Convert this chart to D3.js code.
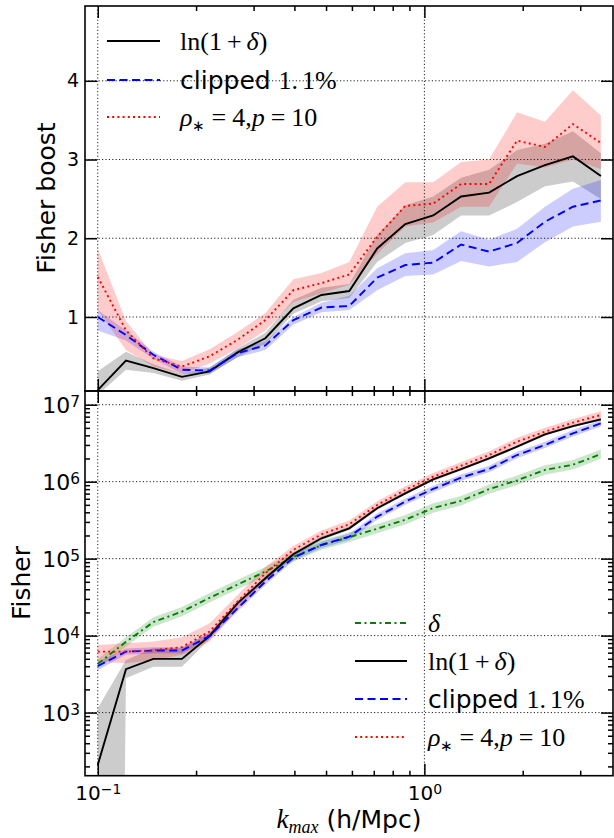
<!DOCTYPE html>
<html><head><meta charset="utf-8">
<script src="https://cdn.jsdelivr.net/npm/d3@7"></script>
<style>body{margin:0;background:#fff} svg{display:block}</style>
</head><body><svg id="c" width="614" height="838"></svg>
<script>
// ---- data ----
const kValues = [0.100,0.122,0.148,0.181,0.220,0.268,0.326,0.397,0.484,0.589,0.717,0.874,1.064,1.296,1.578,1.922,2.340,2.850,3.471];

// top panel: Fisher boost
const boostLn    = [0.07,0.445,0.35,0.24,0.31,0.55,0.73,1.11,1.28,1.33,1.87,2.18,2.29,2.53,2.58,2.79,2.93,3.04,2.79];
const boostLnLo  = [0.01,0.33,0.29,0.19,0.27,0.49,0.66,1.04,1.20,1.24,1.70,1.94,2.04,2.29,2.29,2.46,2.66,2.72,2.50];
const boostLnHi  = [0.31,0.56,0.40,0.28,0.36,0.60,0.80,1.22,1.37,1.42,2.04,2.42,2.53,2.77,2.87,3.12,3.20,3.36,3.08];
const boostClip   = [1.00,0.77,0.52,0.33,0.32,0.54,0.64,0.96,1.12,1.14,1.50,1.66,1.69,1.92,1.83,1.94,2.21,2.40,2.48];
const boostClipLo = [0.83,0.70,0.47,0.28,0.28,0.49,0.58,0.90,1.06,1.09,1.34,1.52,1.54,1.71,1.64,1.70,1.95,2.15,2.21];
const boostClipHi = [1.09,0.83,0.56,0.37,0.36,0.59,0.69,1.00,1.18,1.27,1.62,1.81,1.85,2.09,1.98,2.12,2.40,2.63,2.74];
const boostRho   = [1.51,0.83,0.475,0.37,0.50,0.71,0.96,1.34,1.43,1.54,2.02,2.41,2.44,2.69,2.69,3.24,3.16,3.45,3.21];
const boostRhoLo = [1.09,0.58,0.37,0.28,0.41,0.60,0.83,1.19,1.30,1.41,1.80,2.15,2.20,2.40,2.40,2.95,2.90,3.00,2.88];
const boostRhoHi = [1.87,0.95,0.52,0.44,0.59,0.81,1.05,1.48,1.56,1.70,2.40,2.71,2.71,2.97,3.00,3.60,3.48,3.88,3.56];

// bottom panel: Fisher
const fisherDelta   = [4300,8300,15000,20500,31000,46000,68000,105000,150000,190000,245000,320000,455000,565000,800000,1.04e6,1.42e6,1.66e6,2.28e6];
const fisherDeltaLo = [3700,7200,13000,17800,27000,40000,59000,91000,130000,165000,213000,278000,396000,491000,696000,9.04e5,1.23e6,1.44e6,1.98e6];
const fisherDeltaHi = [4950,9550,17300,23600,35700,53000,78000,121000,173000,219000,282000,368000,523000,650000,920000,1.20e6,1.63e6,1.91e6,2.62e6];
const fisherLn   = [209,3660,4980,4980,9900,26400,55600,114000,184000,248000,452000,706000,1.07e6,1.46e6,2.01e6,2.85e6,4.12e6,5.28e6,6.46e6];
const fisherLnLo = [1e-30,2800,3950,3950,9000,24500,52000,107000,174000,235000,430000,675000,1.02e6,1.40e6,1.93e6,2.74e6,3.96e6,5.08e6,6.22e6];
const fisherLnHi = [1140,4830,6860,6860,10900,28400,59500,121000,194000,262000,475000,738000,1.12e6,1.52e6,2.09e6,2.96e6,4.28e6,5.49e6,6.71e6];
const fisherClip   = [4030,6190,6400,6400,9900,22700,50200,103000,151000,193000,351000,550000,804000,1.13e6,1.46e6,2.22e6,3.00e6,4.25e6,5.73e6];
const fisherClipLo = [3550,5650,5850,5850,9000,20600,45600,93600,137000,175000,319000,500000,731000,1.03e6,1.33e6,2.02e6,2.73e6,3.86e6,5.21e6];
const fisherClipHi = [4590,6800,7040,7040,10900,25000,55200,113000,166000,212000,386000,605000,884000,1.24e6,1.61e6,2.44e6,3.30e6,4.68e6,6.30e6];
const fisherRho   = [6190,6200,6440,7090,11300,27700,64600,130000,207000,280000,498000,780000,1.16e6,1.61e6,2.22e6,3.31e6,4.46e6,5.84e6,7.35e6];
const fisherRhoLo = [4590,4370,4830,5610,8360,21600,51800,115000,185000,250000,445000,697000,1.04e6,1.44e6,1.98e6,2.96e6,3.98e6,5.21e6,6.56e6];
const fisherRhoHi = [7570,7960,8360,9530,14500,33800,78700,146000,232000,314000,558000,874000,1.30e6,1.80e6,2.49e6,3.71e6,5.00e6,6.54e6,8.23e6];

const boostTicks  = [1,2,3,4];
const fisherTicks = [1e3,1e4,1e5,1e6,1e7];
const fisherTickExp = ["3","4","5","6","7"];
const kTicks = [0.1, 1];
const kTickExp = ["\u22121","0"];

// ---- layout ----
const L = 85, R = 613, TT = 6, TB = 391, BT = 391, BB = 775.7;
const svg = d3.select("#c");
svg.append("rect").attr("width",614).attr("height",838).attr("fill","#fff");
const defs = svg.append("defs");
defs.append("clipPath").attr("id","clipTop").append("rect").attr("x",L).attr("y",TT).attr("width",R-L).attr("height",TB-TT);
defs.append("clipPath").attr("id","clipBot").append("rect").attr("x",L).attr("y",BT).attr("width",R-L).attr("height",BB-BT);

const x = d3.scaleLog().domain([0.0914, 3.78]).range([L, R]);
const yTop = d3.scaleLinear().domain([0.06, 4.95]).range([TB, TT]);
const yBot = d3.scaleLog().domain([Math.pow(10,2.18), Math.pow(10,7.178)]).range([BB, BT]);

const styles = {
  ln:   {color:"#000000", dash:null},
  clip: {color:"#0000ff", dash:"8,4.5"},
  rho:  {color:"#ff0000", dash:"2,3.2"},
  delta:{color:"#008000", dash:"6,3.5,2,3.5"}
};

function grid(g, y, yTicks, y0, y1) {
  const gg = g.append("g").attr("stroke","#222").attr("stroke-width",1).attr("stroke-dasharray","1.2,2.2");
  kTicks.forEach(t => gg.append("line").attr("x1",x(t)).attr("x2",x(t)).attr("y1",y0).attr("y2",y1));
  yTicks.forEach(t => gg.append("line").attr("x1",L).attr("x2",R).attr("y1",y(t)).attr("y2",y(t)));
}

function panel(clipId, y, series) {
  const g = svg.append("g").attr("clip-path",`url(#${clipId})`);
  series.forEach(s => {
    const area = d3.area().x((d,i)=>x(kValues[i])).y0((d,i)=>y(s.lo[i])).y1((d,i)=>y(s.hi[i]));
    g.append("path").attr("d", area(s.v)).attr("fill", styles[s.key].color).attr("fill-opacity",0.2).attr("stroke","none");
  });
  return g;
}
function lines(g, y, series) {
  series.forEach(s => {
    const line = d3.line().x((d,i)=>x(kValues[i])).y(d=>y(d));
    const p = g.append("path").attr("d", line(s.v)).attr("fill","none")
      .attr("stroke", styles[s.key].color).attr("stroke-width",1.9);
    if (styles[s.key].dash) p.attr("stroke-dasharray", styles[s.key].dash);
  });
}

// top panel
const topSeries = [
  {key:"ln", v:boostLn, lo:boostLnLo, hi:boostLnHi},
  {key:"clip", v:boostClip, lo:boostClipLo, hi:boostClipHi},
  {key:"rho", v:boostRho, lo:boostRhoLo, hi:boostRhoHi}
];
const gTop = panel("clipTop", yTop, topSeries);
grid(gTop, yTop, boostTicks, TT, TB);
lines(gTop, yTop, topSeries);

// bottom panel
const botSeries = [
  {key:"delta", v:fisherDelta, lo:fisherDeltaLo, hi:fisherDeltaHi},
  {key:"ln", v:fisherLn, lo:fisherLnLo, hi:fisherLnHi},
  {key:"clip", v:fisherClip, lo:fisherClipLo, hi:fisherClipHi},
  {key:"rho", v:fisherRho, lo:fisherRhoLo, hi:fisherRhoHi}
];
const gBot = panel("clipBot", yBot, botSeries);
grid(gBot, yBot, fisherTicks, BT, BB);
lines(gBot, yBot, botSeries);

// ---- axes ----
const kMinor = x.ticks().filter(t => !kTicks.some(m => Math.abs(m-t) < 1e-9));
const fMinor = yBot.ticks().filter(t => !fisherTicks.some(m => Math.abs(m-t)/m < 1e-9));

function styleAxis(g) {
  g.select(".domain").remove();
  g.selectAll(".tick line").attr("stroke","#000").attr("stroke-width",1.5);
}
function addAxis(axis, tx, ty) {
  const g = svg.append("g").attr("transform",`translate(${tx},${ty})`).call(axis);
  styleAxis(g);
  return g;
}
const noLab = () => "";

// top panel axes
const gTopLeft = addAxis(d3.axisLeft(yTop).tickValues(boostTicks).tickSize(-12).tickPadding(6).tickFormat(d3.format("d")), L, 0);
gTopLeft.selectAll("text").attr("font-family","DejaVu Sans").attr("font-size",19).attr("fill","#000");
addAxis(d3.axisRight(yTop).tickValues(boostTicks).tickSize(-12).tickFormat(noLab), R, 0);
addAxis(d3.axisTop(x).tickValues(kTicks).tickSize(-12).tickFormat(noLab), 0, TT);
addAxis(d3.axisTop(x).tickValues(kMinor).tickSize(-5).tickFormat(noLab), 0, TT);
addAxis(d3.axisBottom(x).tickValues(kTicks).tickSize(-12).tickFormat(noLab), 0, TB);
addAxis(d3.axisBottom(x).tickValues(kMinor).tickSize(-5).tickFormat(noLab), 0, TB);

// bottom panel axes
const gBotLeft = addAxis(d3.axisLeft(yBot).tickValues(fisherTicks).tickSize(-12).tickPadding(6).tickFormat(noLab), L, 0);
addAxis(d3.axisLeft(yBot).tickValues(fMinor).tickSize(-5).tickFormat(noLab), L, 0);
addAxis(d3.axisRight(yBot).tickValues(fisherTicks).tickSize(-12).tickFormat(noLab), R, 0);
addAxis(d3.axisRight(yBot).tickValues(fMinor).tickSize(-5).tickFormat(noLab), R, 0);
addAxis(d3.axisTop(x).tickValues(kTicks).tickSize(-12).tickFormat(noLab), 0, BT);
addAxis(d3.axisTop(x).tickValues(kMinor).tickSize(-5).tickFormat(noLab), 0, BT);
const gBotX = addAxis(d3.axisBottom(x).tickValues(kTicks).tickSize(-12).tickFormat(noLab), 0, BB);
addAxis(d3.axisBottom(x).tickValues(kMinor).tickSize(-5).tickFormat(noLab), 0, BB);

function powLabel(textSel, exps, baseSize) {
  textSel.each(function(d,i){
    const t = d3.select(this);
    t.text(null).attr("font-family","DejaVu Sans").attr("font-size",baseSize).attr("fill","#000");
    t.append("tspan").text("10");
    t.append("tspan").attr("dy","-0.42em").attr("font-size",baseSize*0.7).text(exps[i]);
  });
}
gBotLeft.selectAll("text").attr("dy","0.36em").attr("x",-5).call(s => powLabel(s, fisherTickExp, 22));
gBotX.selectAll("text").attr("y",24).attr("dy",0).attr("text-anchor","middle").call(s => powLabel(s, kTickExp, 20));

// frames
[[TT,TB],[BT,BB]].forEach(([a,b]) => svg.append("rect").attr("x",L).attr("y",a).attr("width",R-L).attr("height",b-a)
  .attr("fill","none").attr("stroke","#000").attr("stroke-width",1.6));

// ---- texts ----
const SERIF = "Liberation Serif", SANS = "DejaVu Sans";
function rich(x0, y0, parts, anchor) {
  const t = svg.append("text").attr("x",x0).attr("y",y0).attr("fill","#000").attr("text-anchor",anchor||"start");
  parts.forEach(p => {
    const s = t.append("tspan").text(p.t).attr("font-family", p.f==="sans"?SANS:SERIF).attr("font-size", p.sz||26);
    if (p.it) s.attr("font-style","italic");
    if (p.dx) s.attr("dx", p.dx);
    if (p.dy) s.attr("dy", p.dy);
  });
  return t;
}
const legLabels = {
  ln:   [{t:"ln(1"},{t:"+",dx:5},{t:"\u03b4",it:true,dx:5},{t:")"}],
  clip: [{t:"clipped ",f:"sans",sz:25},{t:"1."},{t:"1%",dx:4}],
  rho:  [{t:"\u03c1",it:true},{t:"\u2217",sz:15,dy:5},{t:"=",dx:6,dy:-5},{t:"4,",dx:6},{t:"p",it:true},{t:"=",dx:6},{t:"10",dx:6}],
  delta:[{t:"\u03b4",it:true}]
};
function legend(entries, lx0, lx1, tx, ys) {
  entries.forEach((key,i) => {
    const l = svg.append("line").attr("x1",lx0).attr("x2",lx1).attr("y1",ys[i]).attr("y2",ys[i])
      .attr("stroke",styles[key].color).attr("stroke-width",1.9);
    if (styles[key].dash) l.attr("stroke-dasharray",styles[key].dash);
    rich(tx, ys[i]+8.5, legLabels[key]);
  });
}
legend(["ln","clip","rho"], 107, 160, 180, [41, 80, 117]);
legend(["delta","ln","clip","rho"], 355, 407, 428, [623, 661, 699, 737]);

// axis labels
svg.append("text").attr("transform","translate(55,198)rotate(-90)").attr("text-anchor","middle")
  .attr("font-family",SANS).attr("font-size",25).attr("fill","#000").text("Fisher boost");
svg.append("text").attr("transform","translate(30,583)rotate(-90)").attr("text-anchor","middle")
  .attr("font-family",SANS).attr("font-size",25).attr("fill","#000").text("Fisher");
rich(349, 828, [{t:"k",it:true,sz:27},{t:"max",it:true,sz:18,dy:5},{t:" (h/Mpc)",f:"sans",sz:25,dy:-5}], "middle");
</script></body></html>
